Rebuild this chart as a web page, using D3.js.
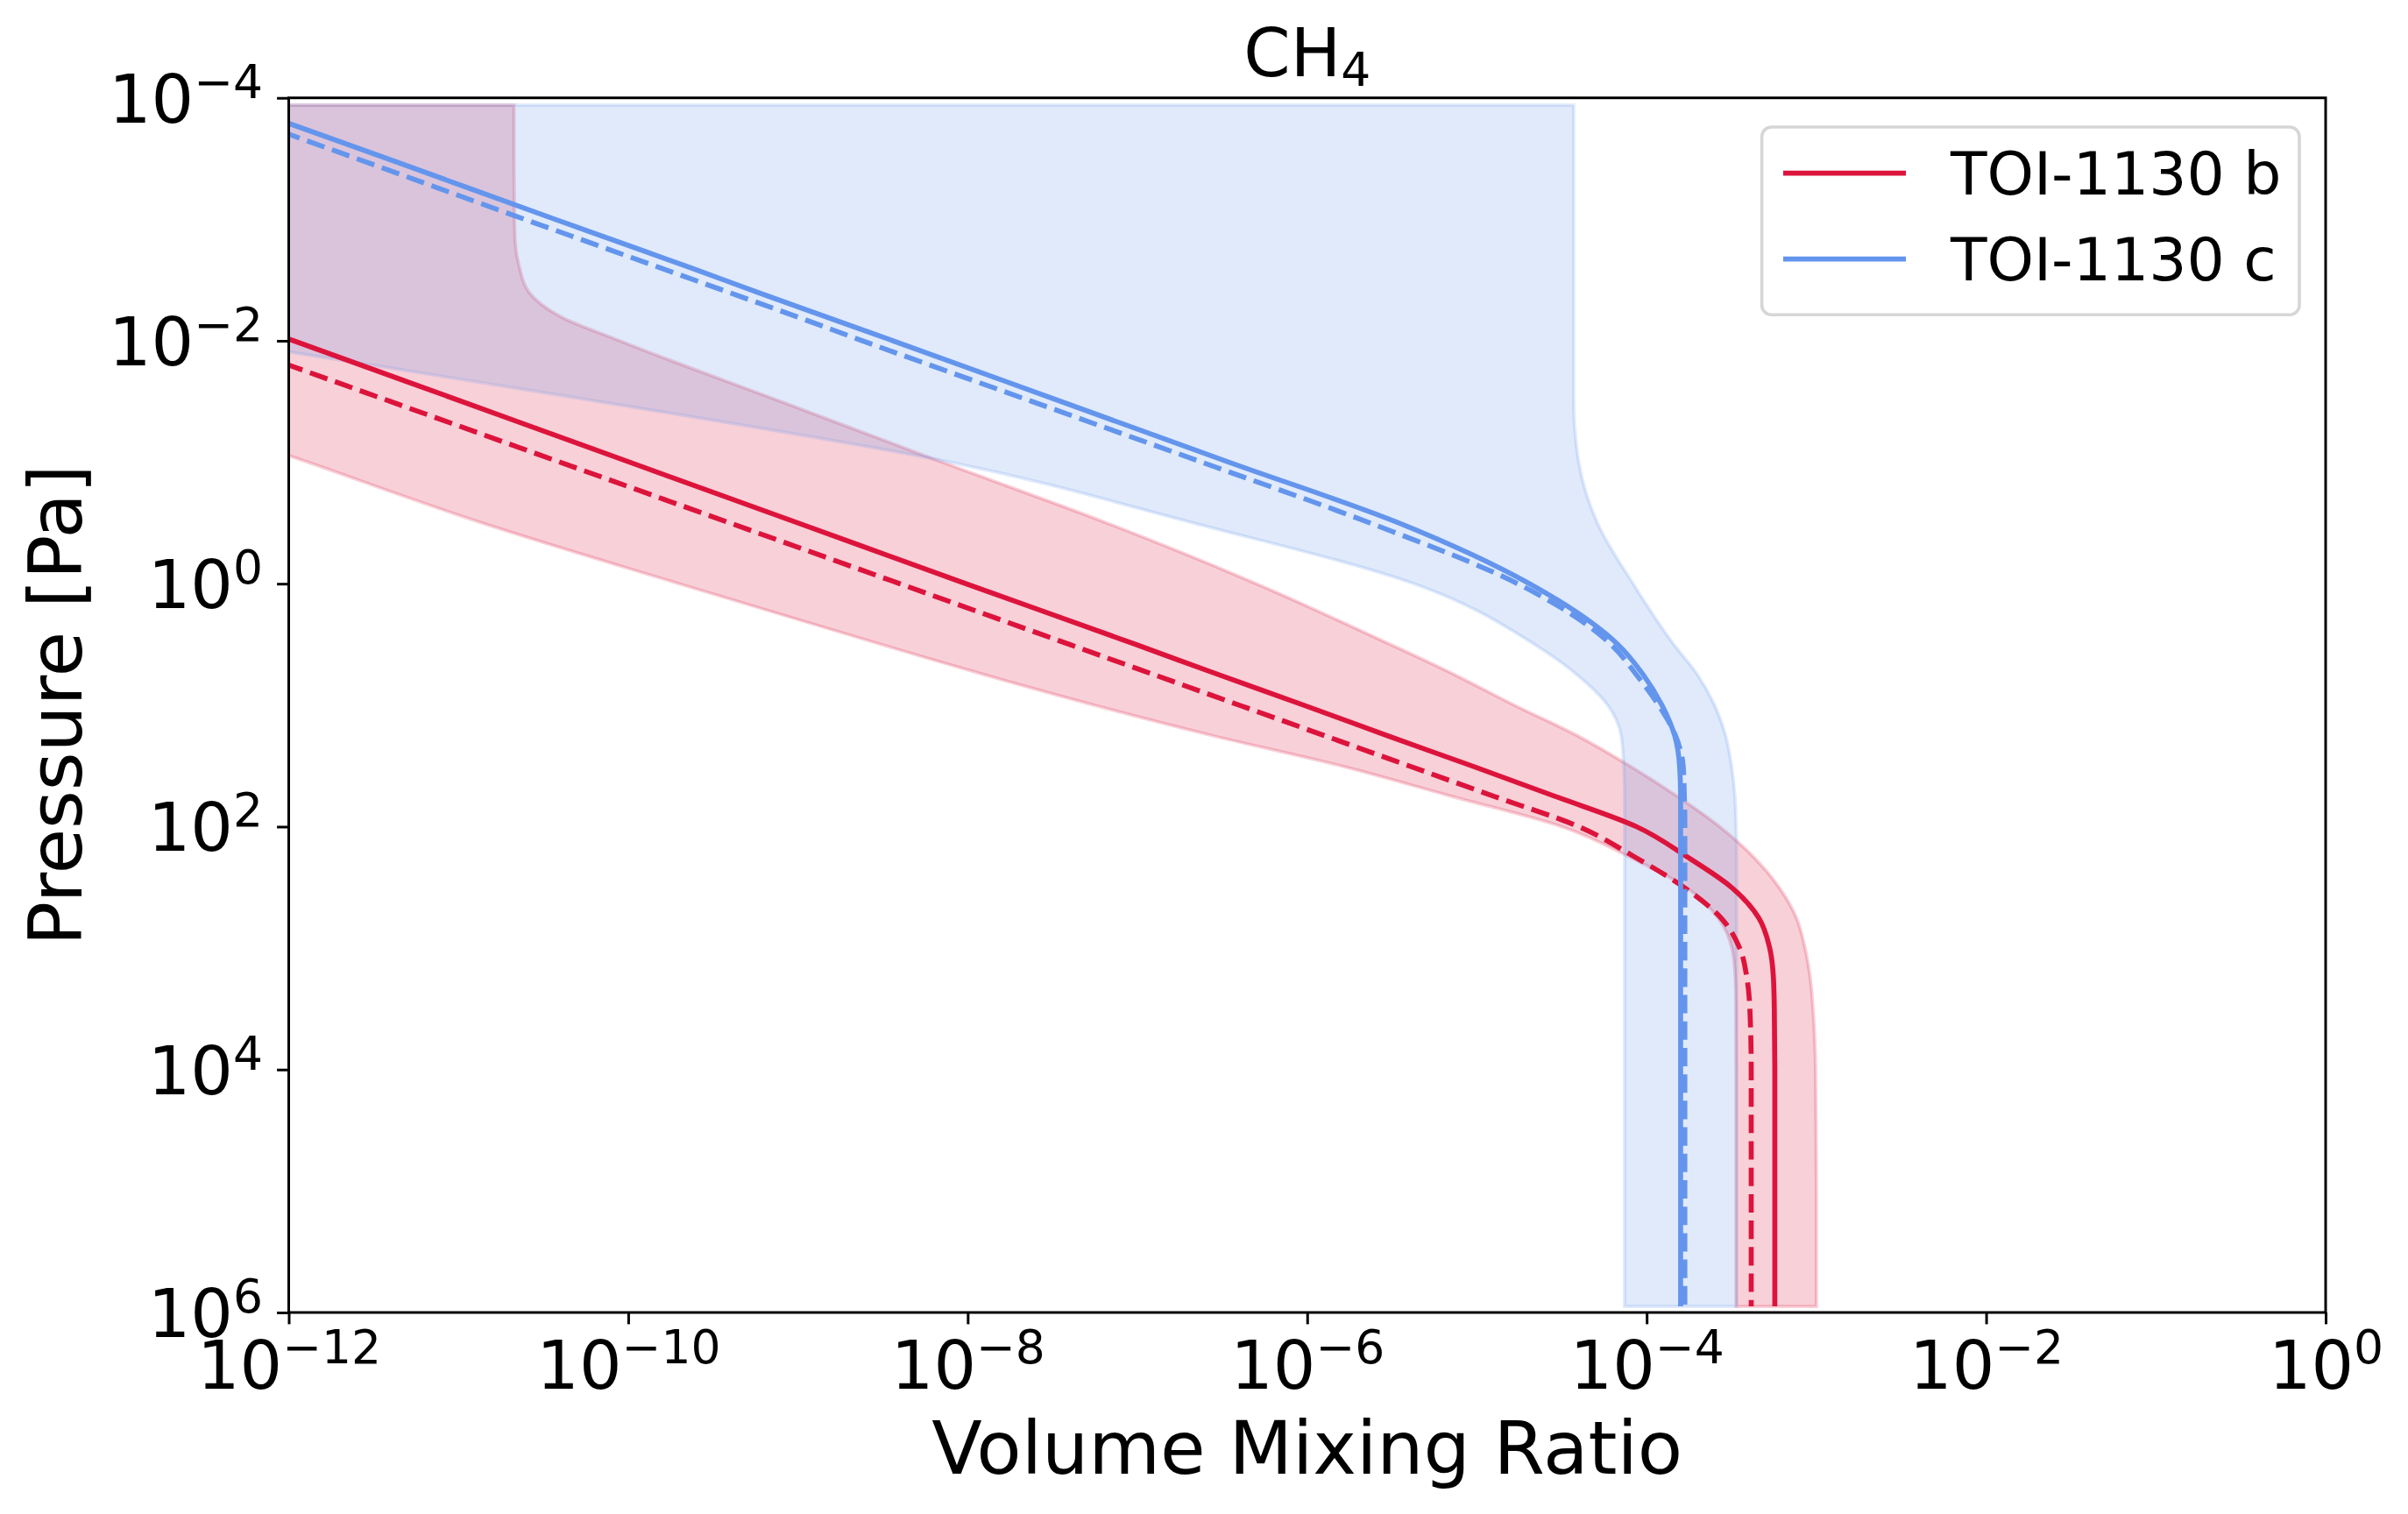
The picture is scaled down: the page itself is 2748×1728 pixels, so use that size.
<!DOCTYPE html>
<html>
<head>
<meta charset="utf-8">
<script src="https://cdn.jsdelivr.net/npm/d3@7"></script>
<style>
  html, body { margin: 0; padding: 0; background: #ffffff; }
  svg { display: block; }
  text { font-family: "DejaVu Sans", sans-serif; }
</style>
</head>
<body>
<svg id="chart" width="2748" height="1728"></svg>
<script>
// ---------------- DATA (log10 values) ----------------
const title = "CH";
const titleSub = "4";
const xLabel = "Volume Mixing Ratio";
const yLabel = "Pressure [Pa]";

// pressure levels, log10(Pa)
const logPressure = [-3.94, -3.5, -3.0, -2.8, -2.6, -2.4, -2.2, -2.0, -1.5, -1.0, -0.5, 0.0, 0.5, 0.75,
  1.0, 1.25, 1.5, 1.75, 2.0, 2.25, 2.5, 2.75, 3.0, 3.25, 3.5, 4.0, 5.0, 5.95];

// TOI-1130 b : log10(VMR)
const bSolid  = [-15.82, -14.95, -13.96, -13.56, -13.17, -12.77, -12.37, -11.97, -10.98, -9.99, -9.0, -8.01, -7.01, -6.52,
  -6.02, -5.53, -5.03, -4.54, -4.06, -3.76, -3.50, -3.34, -3.275, -3.253, -3.248, -3.245, -3.245, -3.245];
const bDashed = [-16.28, -15.4, -14.4, -14.0, -13.6, -13.2, -12.8, -12.4, -11.4, -10.4, -9.4, -8.4, -7.4, -6.9,
  -6.4, -5.9, -5.4, -4.9, -4.40, -4.07, -3.78, -3.563, -3.452, -3.409, -3.392, -3.384, -3.384, -3.384];
const bLow    = [-17.9, -17.0, -15.98, -15.57, -15.16, -14.75, -14.34, -13.93, -12.91, -11.885, -10.86, -9.70, -8.51, -7.90,
  -7.255, -6.56, -5.80, -5.15, -4.50, -4.10, -3.768, -3.581, -3.498, -3.478, -3.474, -3.473, -3.473, -3.473];
const bHigh   = [-10.673, -10.673, -10.67, -10.665, -10.64, -10.585, -10.40, -10.05, -9.10, -8.15, -7.18, -6.30, -5.51, -5.13,
  -4.78, -4.41, -4.10, -3.82, -3.57, -3.37, -3.22, -3.118, -3.067, -3.036, -3.02, -3.005, -3.0, -3.0];

// TOI-1130 c : log10(VMR)
const cSolid  = [-12.30, -11.42, -10.43, -10.03, -9.63, -9.24, -8.84, -8.44, -7.45, -6.46, -5.46, -4.69, -4.17, -4.02,
  -3.91, -3.835, -3.806, -3.80, -3.80, -3.80, -3.80, -3.80, -3.80, -3.80, -3.80, -3.80, -3.80, -3.80];
const cDashed = [-12.48, -11.60, -10.61, -10.21, -9.81, -9.41, -9.01, -8.62, -7.62, -6.62, -5.63, -4.76, -4.21, -4.06,
  -3.93, -3.83, -3.785, -3.778, -3.775, -3.775, -3.775, -3.775, -3.775, -3.775, -3.775, -3.775, -3.775, -3.775];
const cLow    = [-20.96, -19.0, -16.8, -15.9, -15.05, -14.17, -13.29, -12.41, -10.17, -8.10, -6.67, -5.37, -4.66, -4.41,
  -4.23, -4.15, -4.135, -4.13, -4.13, -4.13, -4.13, -4.13, -4.13, -4.13, -4.13, -4.13, -4.13, -4.13];
const cHigh   = [-4.43, -4.43, -4.43, -4.43, -4.43, -4.43, -4.43, -4.43, -4.43, -4.40, -4.29, -4.08, -3.84, -3.70,
  -3.60, -3.535, -3.50, -3.48, -3.473, -3.47, -3.47, -3.47, -3.47, -3.47, -3.47, -3.47, -3.47, -3.47];

const seriesNames = ["TOI-1130 b", "TOI-1130 c"];
const seriesColors = ["#DC143C", "#6495ED"];

const xTickValues = [1e-12, 1e-10, 1e-8, 1e-6, 1e-4, 1e-2, 1];
const xTickExps = ["\u221212", "\u221210", "\u22128", "\u22126", "\u22124", "\u22122", "0"];
const yTickValues = [1e-4, 1e-2, 1, 1e2, 1e4, 1e6];
const yTickExps = ["\u22124", "\u22122", "0", "2", "4", "6"];

// ---------------- LAYOUT ----------------
const W = 2748, H = 1728;
const L = 329.5, R = 2654, T = 111.7, B = 1498;
const svg = d3.select("#chart");

const x = d3.scaleLog().domain([1e-12, 1]).range([L, R]);
const y = d3.scaleLog().domain([1e-4, 1e6]).range([T, B]);

svg.append("defs").append("clipPath").attr("id", "plotclip")
  .append("rect").attr("x", L).attr("y", T).attr("width", R - L).attr("height", B - T);

const plot = svg.append("g").attr("clip-path", "url(#plotclip)");

function rows(lo, hi) {
  return logPressure.map((p, i) => ({ p: Math.pow(10, p), lo: Math.pow(10, lo[i]), hi: hi ? Math.pow(10, hi[i]) : null }));
}

const area = d3.area()
  .y(d => y(d.p)).x0(d => x(d.lo)).x1(d => x(d.hi))
  .curve(d3.curveMonotoneY);
const line = d3.line()
  .y(d => y(d.p)).x(d => x(d.lo))
  .curve(d3.curveMonotoneY);

// shaded envelopes
[[bLow, bHigh, 0], [cLow, cHigh, 1]].forEach(([lo, hi, k]) => {
  plot.append("path")
    .datum(rows(lo, hi))
    .attr("d", area)
    .attr("fill", seriesColors[k]).attr("fill-opacity", 0.2)
    .attr("stroke", seriesColors[k]).attr("stroke-opacity", 0.2)
    .attr("stroke-width", 3.8);
});

// profiles
const lw = 5.7;
[[bSolid, 0, false], [bDashed, 0, true], [cSolid, 1, false], [cDashed, 1, true]].forEach(([arr, k, dashed]) => {
  plot.append("path")
    .datum(rows(arr))
    .attr("d", line)
    .attr("fill", "none")
    .attr("stroke", seriesColors[k])
    .attr("stroke-width", lw)
    .attr("stroke-dasharray", dashed ? `${3.7 * lw} ${1.6 * lw}` : null);
});

// ---------------- AXES ----------------
const tickFont = 76.4, supFont = 53.5;

const xAxis = svg.append("g").attr("transform", `translate(0,${B})`)
  .call(d3.axisBottom(x).tickValues(xTickValues).tickFormat(() => "").tickSize(13.4).tickSizeOuter(0));
const yAxis = svg.append("g").attr("transform", `translate(${L},0)`)
  .call(d3.axisLeft(y).tickValues(yTickValues).tickFormat(() => "").tickSize(13.4).tickSizeOuter(0));

[xAxis, yAxis].forEach(g => {
  g.select(".domain").remove();
  g.selectAll(".tick line").attr("stroke", "#000").attr("stroke-width", 3);
});

xAxis.selectAll(".tick text").each(function (d, i) {
  const t = d3.select(this);
  t.attr("y", 87).attr("dy", null).attr("fill", "#000").attr("font-size", tickFont)
    .attr("text-anchor", "middle").attr("font-family", "DejaVu Sans");
  t.append("tspan").text("10");
  t.append("tspan").attr("font-size", supFont).attr("dy", -29).text(xTickExps[i]);
});
yAxis.selectAll(".tick text").each(function (d, i) {
  const t = d3.select(this);
  t.attr("x", -29.5).attr("y", 27.5).attr("dy", null).attr("fill", "#000").attr("font-size", tickFont)
    .attr("text-anchor", "end").attr("font-family", "DejaVu Sans");
  t.append("tspan").text("10");
  t.append("tspan").attr("font-size", supFont).attr("dy", -28).text(yTickExps[i]);
});

// frame
svg.append("rect").attr("x", L).attr("y", T).attr("width", R - L).attr("height", B - T)
  .attr("fill", "none").attr("stroke", "#000").attr("stroke-width", 3);

// labels
svg.append("text").attr("x", (L + R) / 2).attr("y", 1682).attr("text-anchor", "middle")
  .attr("font-size", 84).attr("fill", "#000").text(xLabel);
svg.append("text").attr("transform", `translate(93,${(T + B) / 2}) rotate(-90)`).attr("text-anchor", "middle")
  .attr("font-size", 84).attr("fill", "#000").text(yLabel);

const tt = svg.append("text").attr("x", (L + R) / 2).attr("y", 87).attr("text-anchor", "middle")
  .attr("font-size", 76.4).attr("fill", "#000");
tt.append("tspan").text(title);
tt.append("tspan").attr("font-size", 53.5).attr("dy", 11).text(titleSub);

// ---------------- LEGEND ----------------
const leg = svg.append("g");
leg.append("rect").attr("x", 2010.6).attr("y", 145).attr("width", 613.4).attr("height", 214.3)
  .attr("rx", 11).attr("fill", "#fff").attr("fill-opacity", 0.8)
  .attr("stroke", "#d6d6d6").attr("stroke-width", 3.6);
const legRowY = [197.7, 295.7];
seriesNames.forEach((name, k) => {
  leg.append("line").attr("x1", 2035).attr("x2", 2175).attr("y1", legRowY[k]).attr("y2", legRowY[k])
    .attr("stroke", seriesColors[k]).attr("stroke-width", lw);
  leg.append("text").attr("x", 2226).attr("y", legRowY[k] + 24).attr("font-size", 68).attr("fill", "#000").text(name);
});
</script>
</body>
</html>
